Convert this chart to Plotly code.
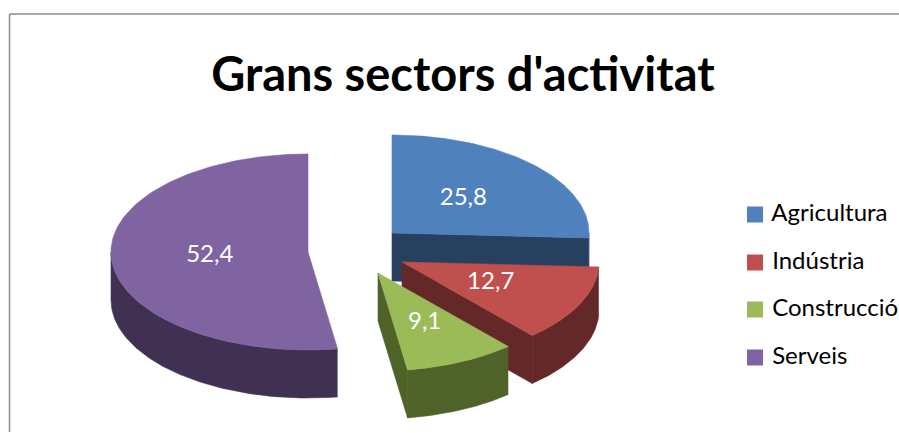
import numpy as np
import plotly.graph_objects as go

title = "Grans sectors d'activitat"
categories = ["Agricultura", "Indústria", "Construcció", "Serveis"]
values = [25.8, 12.7, 9.1, 52.4]

top_colors = ["#4F81BD", "#C0504D", "#9BBB59", "#8064A2"]
side_colors = ["#284060", "#632827", "#4F6228", "#403152"]
slice_centers = [(392, 233), (402, 262), (378, 273), (308, 252)]
label_radius = [0.5, 0.5, 0.56, 0.5]
draw_order = [3, 0, 1, 2]
legend_x = 755
legend_y = [214.5, 262.5, 309.5, 357.5]
RX, RY, DEPTH = 197, 98, 48
FONT = "Lato, Carlito, sans-serif"


def pt(c, deg, r=1.0):
    a = np.radians(deg)
    return c[0] + RX * r * np.sin(a), c[1] - RY * r * np.cos(a)


def arc(c, a0, a1, n=120):
    ang = np.linspace(a0, a1, n)
    x, y = pt(c, ang)
    return list(x), list(y)


def poly(fig, x, y, color):
    fig.add_trace(go.Scatter(x=x, y=y, mode="lines", fill="toself", fillcolor=color,
                             line=dict(width=0.6, color=color), hoverinfo="skip", showlegend=False))


total = sum(values)
edges = np.concatenate([[0], np.cumsum(values)]) / total * 360

fig = go.Figure()
for i in draw_order:
    c, a0, a1 = slice_centers[i], edges[i], edges[i + 1]
    # cut faces that look towards the viewer
    for edge_deg, faces_viewer in ((a0, a0 > 180), (a1, a1 < 180)):
        if faces_viewer:
            ex, ey = pt(c, edge_deg)
            poly(fig, [c[0], ex, ex, c[0], c[0]],
                 [c[1], ey, ey + DEPTH, c[1] + DEPTH, c[1]], side_colors[i])
    # outer wall
    w0, w1 = max(a0, 90), min(a1, 270)
    if w1 > w0:
        ax, ay = arc(c, w0, w1)
        poly(fig, ax + ax[::-1], ay + [v + DEPTH for v in ay[::-1]], side_colors[i])
    # top face
    ax, ay = arc(c, a0, a1)
    poly(fig, [c[0]] + ax + [c[0]], [c[1]] + ay + [c[1]], top_colors[i])

# slice labels
for i in range(len(values)):
    mid = (edges[i] + edges[i + 1]) / 2
    lx, ly = pt(slice_centers[i], mid, label_radius[i])
    fig.add_trace(go.Scatter(x=[lx], y=[ly], mode="text",
                             text=[f"{values[i]:.1f}".replace(".", ",")],
                             textposition="middle center",
                             textfont=dict(family=FONT, size=24, color="white"),
                             hoverinfo="skip", showlegend=False))

# legend
for i, name in enumerate(categories):
    fig.add_trace(go.Scatter(x=[legend_x], y=[legend_y[i]], mode="markers+text",
                             marker=dict(symbol="square", size=16, color=top_colors[i]),
                             text=[" " + name], textposition="middle right",
                             textfont=dict(family=FONT, size=24, color="black"),
                             hoverinfo="skip", showlegend=False, cliponaxis=False))

fig.update_layout(
    width=899, height=433, autosize=False,
    margin=dict(l=0, r=0, t=0, b=0),
    paper_bgcolor="white", plot_bgcolor="white",
    xaxis=dict(range=[0, 899], visible=False, fixedrange=True),
    yaxis=dict(range=[433, 0], visible=False, fixedrange=True),
    title=dict(text=f"<b>{title}</b>", x=463 / 899, xanchor="center", y=1 - 75 / 433, yanchor="middle",
               font=dict(family=FONT, size=47, color="black")),
    shapes=[
        dict(type="line", x0=9.5, x1=899, y0=14, y1=14, xref="x", yref="y", line=dict(color="#8C8C8C", width=1.5)),
        dict(type="line", x0=9.5, x1=9.5, y0=14, y1=432, xref="x", yref="y", line=dict(color="#8C8C8C", width=1.5)),
    ],
)

fig.write_html("out.html", config={"displayModeBar": False},
               post_script="document.body.style.margin='0';document.body.style.overflow='hidden';")
